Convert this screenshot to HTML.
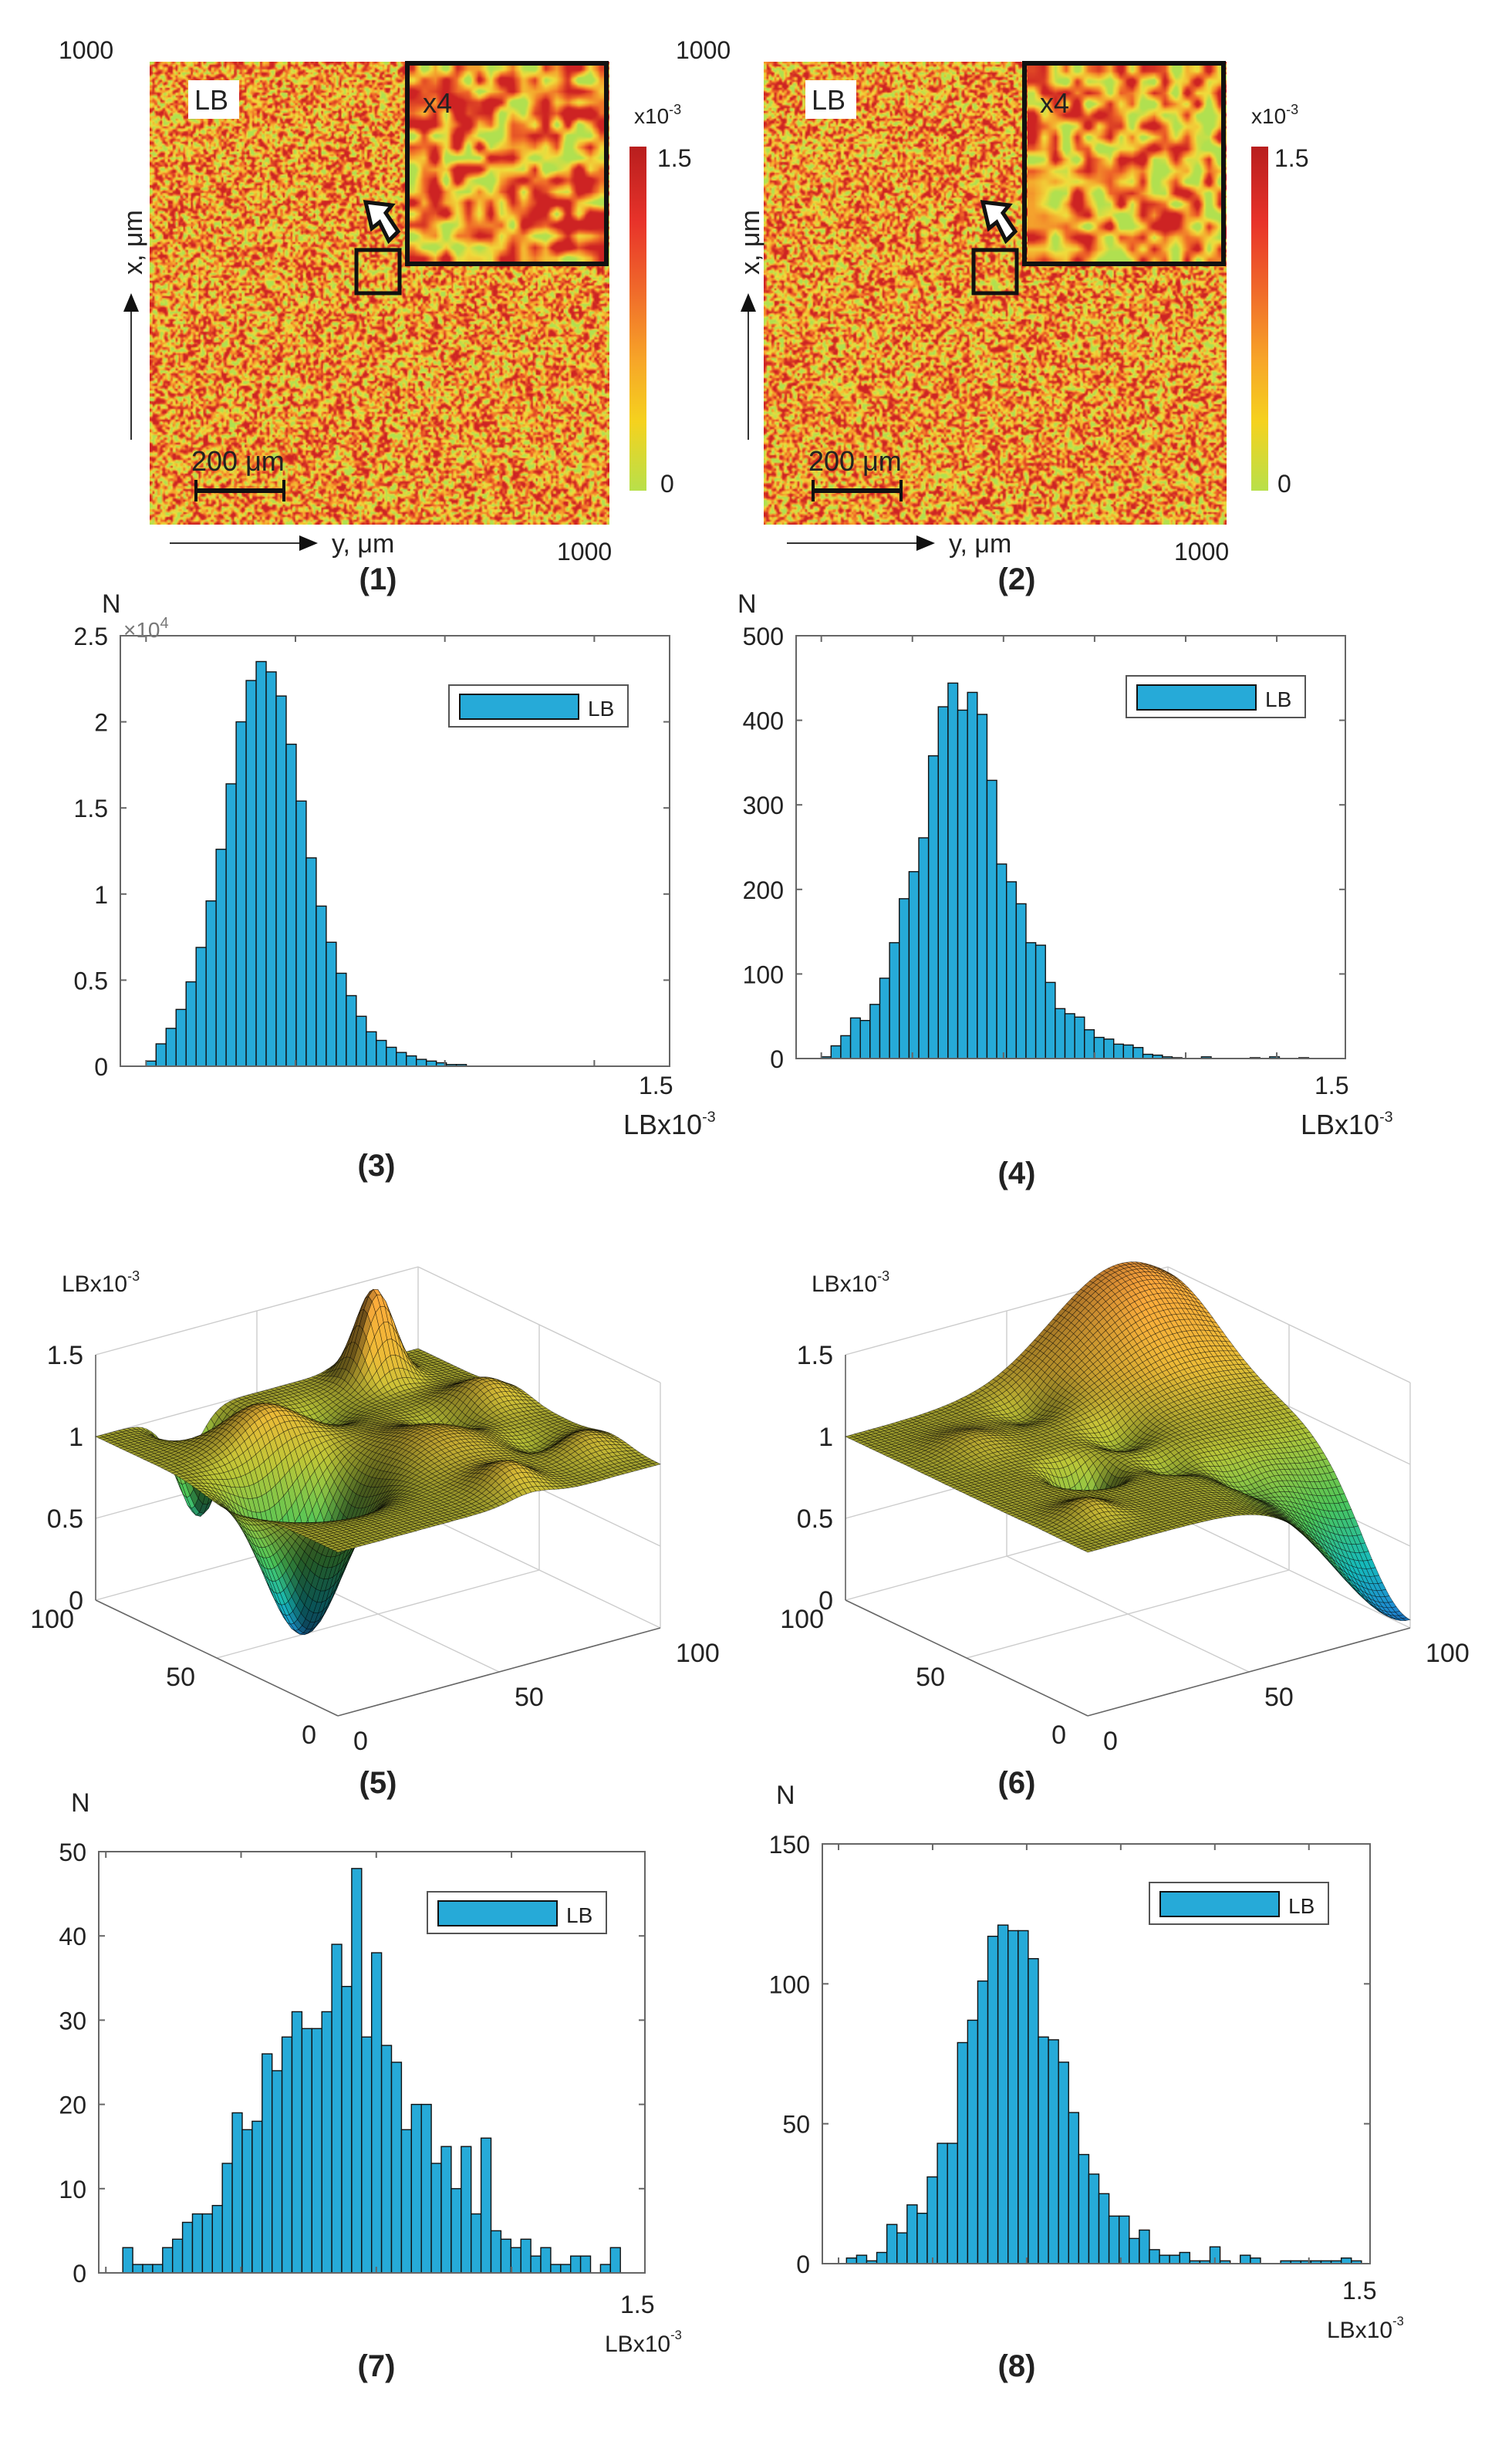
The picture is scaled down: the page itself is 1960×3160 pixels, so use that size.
<!DOCTYPE html>
<html><head><meta charset="utf-8">
<style>
html,body{margin:0;padding:0;background:#fff;}
#root{position:relative;width:980px;height:1580px;transform:scale(2);transform-origin:0 0;font-family:"Liberation Sans",sans-serif;}
canvas{position:absolute;}
#svg{position:absolute;left:0;top:0;}
.cb{position:absolute;width:11px;height:223px;top:95px;background:linear-gradient(to bottom,#b81e1e 0%,#e8332a 22%,#f06a2a 42%,#f7a528 62%,#f5d21e 80%,#b8e04a 100%);}
</style></head>
<body>
<div id="root">
<canvas id="hm1" width="300" height="300" style="left:97px;top:40px;width:298px;height:300px"></canvas>
<canvas id="in1" width="130" height="130" style="left:264px;top:41px;width:129px;height:130px"></canvas>
<canvas id="hm2" width="300" height="300" style="left:495px;top:40px;width:300px;height:300px"></canvas>
<canvas id="in2" width="130" height="130" style="left:666px;top:42px;width:128px;height:130px"></canvas>
<div class="cb" style="left:408px"></div>
<div class="cb" style="left:811px"></div>
<svg id="svg" width="980" height="1580" viewBox="0 0 980 1580" xmlns="http://www.w3.org/2000/svg" font-family="Liberation Sans, sans-serif"></svg>
</div>
<script>
// ---- histogram data ----
const h3Counts = [0.03,0.13,0.22,0.33,0.49,0.69,0.96,1.26,1.64,2.0,2.24,2.35,2.29,2.15,1.87,1.54,1.21,0.93,0.72,0.54,0.41,0.29,0.20,0.15,0.11,0.08,0.06,0.04,0.03,0.02,0.01,0.01];
const h3YTicks = [0,0.5,1,1.5,2,2.5];
const h3YLabels = ["0","0.5","1","1.5","2","2.5"];
const h3XTicks = [0,0.5,1,1.5];
const h4Counts = [2,15,27,48,45,64,95,137,189,221,261,358,416,444,412,433,407,329,230,209,183,137,134,90,59,53,49,34,25,23,17,16,13,5,4,2,1,0,0,2,0,0,0,0,1,0,2,0,0,1];
const h4YTicks = [0,100,200,300,400,500];
const h4YLabels = ["0","100","200","300","400","500"];
const h4XTicks = [0,0.3,0.6,0.9,1.2,1.5];
const h7Counts = [3,1,1,1,3,4,6,7,7,8,13,19,17,18,26,24,28,31,29,29,31,39,34,48,28,38,27,25,17,20,20,13,15,10,15,7,16,5,4,3,4,2,3,1,1,2,2,0,1,3];
const h7YTicks = [0,10,20,30,40,50];
const h7YLabels = ["0","10","20","30","40","50"];
const h7XTicks = [0,0.375,0.75,1.125];
const h8Counts = [2,3,1,4,14,11,21,18,31,43,43,79,87,101,117,121,119,119,109,81,80,72,54,39,32,25,17,17,9,12,5,3,3,4,1,1,6,1,0,3,2,0,0,1,1,1,1,1,1,2,1];
const h8YTicks = [0,50,100,150];
const h8YLabels = ["0","50","100","150"];
const h8XTicks = [0,0.3,0.6,0.9,1.2,1.5];
// ---- surface data (bumps: u, v, amplitude, width) ----
const s5U = [45,90,93,70,40,20,60,10,80,30,55];
const s5V = [23,79,27,30,60,90,90,60,55,85,75];
const s5A = [-0.95,0.55,-0.6,0.25,0.15,0.12,0.15,0.15,-0.12,-0.1,-0.12];
const s5W = [14,7,8,14,16,10,10,9,8,8,8];
const s6U = [100,0,46,75,30,60,20,85,40];
const s6V = [85,100,34,20,70,55,15,45,55];
const s6A = [0.6,-0.95,-0.45,0.08,-0.12,-0.12,0.1,-0.1,-0.1];
const s6W = [30,28,7,10,9,8,8,8,7];

const NS="http://www.w3.org/2000/svg";
const svg=document.getElementById('svg');
function el(tag,attrs,parent){const e=document.createElementNS(NS,tag);for(const k in attrs)e.setAttribute(k,attrs[k]);(parent||svg).appendChild(e);return e;}
function txt(x,y,s,size,attrs,parent){const t=el('text',Object.assign({x:x,y:y,'font-size':size,fill:'#222'},attrs||{}),parent);t.textContent=s;return t;}

function hist(name,box,xmin,xmax,ymax,yt,yl,xt,binStart,binW,counts,leg){
  const g=el('g',{});
  
  
  const sx=v=>box[0]+(v-xmin)/(xmax-xmin)*(box[2]-box[0]);
  const sy=v=>box[3]-v/ymax*(box[3]-box[1]);
  for(let i=0;i<counts.length;i++){
    if(counts[i]<=0)continue;
    const x0=sx(binStart+i*binW),x1=sx(binStart+(i+1)*binW);
    const r=el('rect',{x:x0,y:sy(counts[i]),width:x1-x0,height:box[3]-sy(counts[i]),fill:'#26aad8',stroke:'#111','stroke-width':0.7},g);
    
    
  }
  const fr=el('rect',{x:box[0],y:box[1],width:box[2]-box[0],height:box[3]-box[1],fill:'none',stroke:'#666','stroke-width':1},g);
  
  
  yt.forEach((v,i)=>{
    const y=sy(v);
    el('line',{x1:box[0],x2:box[0]+4,y1:y,y2:y,stroke:'#666'},g);
    el('line',{x1:box[2],x2:box[2]-4,y1:y,y2:y,stroke:'#666'},g);
    const t=txt(box[0]-8,y+6,yl[i],16,{'text-anchor':'end'},g);
    
    
  });
  xt.forEach(v=>{
    const x=sx(v);
    el('line',{x1:x,x2:x,y1:box[3],y2:box[3]-4,stroke:'#666'},g);
    el('line',{x1:x,x2:x,y1:box[1],y2:box[1]+4,stroke:'#666'},g);
  });
  const lg=el('g',{},g);
  
  
  el('rect',{x:leg[0],y:leg[1],width:116,height:27,fill:'#fff',stroke:'#555','stroke-width':1},lg);
  el('rect',{x:leg[0]+7,y:leg[1]+6,width:77,height:16,fill:'#26aad8',stroke:'#111','stroke-width':1},lg);
  txt(leg[0]+90,leg[1]+20,'LB',14,{},lg);
}
hist('histogram-3',[78,412,434,691],-0.086,1.752,2.5,h3YTicks,h3YLabels,h3XTicks,0,0.0335,h3Counts,[291,444]);
hist('histogram-4',[516,412,872,686],-0.083,1.726,500,h4YTicks,h4YLabels,h4XTicks,0,0.0321,h4Counts,[730,438]);
hist('histogram-7',[64,1200,418,1473],-0.0197,1.495,50,h7YTicks,h7YLabels,h7XTicks,0.047,0.0276,h7Counts,[277,1226]);
hist('histogram-8',[533,1195,888,1467],-0.0517,1.695,150,h8YTicks,h8YLabels,h8XTicks,0.0253,0.0322,h8Counts,[745,1220]);

function lab(x,y,s,size,name,anchor,weight){const t=txt(x,y,s,size,{'text-anchor':anchor||'start','font-weight':weight||'normal'});return t;}
function lbx(x,y,size,name){const t=txt(x,y,'LBx10',size);const s=el('tspan',{dy:-8,'font-size':size*0.55},t);s.textContent='-3';return t;}
lab(66,397,'N',17,'y-axis-title-3');
{const t=txt(80,413,'×10',14,{fill:'#777'});const s=el('tspan',{dy:-6,'font-size':10},t);s.textContent='4';}
lab(414,709,'1.5',16,'x-tick-1-5');lbx(404,735,18,'x-axis-title-3');
lab(478,397,'N',17,'y-axis-title-4');
lab(852,709,'1.5',16,'x-tick-1-5');lbx(843,735,18,'x-axis-title-4');
lab(46,1174,'N',17,'y-axis-title-7');
lab(402,1499,'1.5',16,'x-tick-1-5');lbx(392,1524,15,'x-axis-title-7');
lab(503,1169,'N',17,'y-axis-title-8');
lab(870,1490,'1.5',16,'x-tick-1-5');lbx(860,1515,15,'x-axis-title-8');
[['(1)',245,382],['(2)',659,382],['(3)',244,762],['(4)',659,767],['(5)',245,1162],['(6)',659,1162],['(7)',244,1540],['(8)',659,1540]].forEach(p=>lab(p[1],p[2],p[0],20,'panel-label','middle','bold'));

function mapPanel(dx,n){
  const g=el('g',{});
  
  
  txt(38+dx,38,'1000',16,{},g);
  el('rect',{x:122+dx,y:52,width:33,height:25,fill:'#fff'},g);
  txt(126+dx,71,'LB',18,{},g);
  el('rect',{x:dx+264,y:41,width:129,height:130,fill:'none',stroke:'#111','stroke-width':3},g);
  el('rect',{x:dx+231,y:162,width:28,height:28,fill:'none',stroke:'#111','stroke-width':2.5},g);
  el('path',{d:`M${dx+252},156 L${dx+246},144 L${dx+241},148 L${dx+237},131 L${dx+254},133 L${dx+250},138 L${dx+258},150 Z`,fill:'#fff',stroke:'#111','stroke-width':2.5,'stroke-linejoin':'miter'},g);
  txt(dx+274,73,'x4',18,{},g);
  const t=txt(dx+411,80,'x10',14,{},g);const s=el('tspan',{dy:-6,'font-size':9},t);s.textContent='-3';
  txt(dx+426,108,'1.5',16,{},g);
  txt(dx+428,319,'0',16,{},g);
  el('line',{x1:dx+85,y1:285,x2:dx+85,y2:198,stroke:'#333','stroke-width':1},g);
  el('path',{d:`M${dx+85},190 L${dx+80},202 L${dx+90},202 Z`,fill:'#111'},g);
  txt(dx+92,178,'x, μm',17,{transform:`rotate(-90 ${dx+92} 178)`},g);
  el('line',{x1:dx+110,y1:352,x2:dx+197,y2:352,stroke:'#333','stroke-width':1},g);
  el('path',{d:`M${dx+206},352 L${dx+194},347 L${dx+194},357 Z`,fill:'#111'},g);
  txt(dx+215,358,'y, μm',17,{},g);
  txt(dx+361,363,'1000',16,{},g);
  el('line',{x1:dx+126,y1:318,x2:dx+185,y2:318,stroke:'#111','stroke-width':3},g);
  el('line',{x1:dx+127,y1:311,x2:dx+127,y2:325,stroke:'#111','stroke-width':2},g);
  el('line',{x1:dx+184,y1:311,x2:dx+184,y2:325,stroke:'#111','stroke-width':2},g);
  txt(dx+124,305,'200 μm',18,{},g);
}
mapPanel(0,1);mapPanel(400,2);

function rng(seed){return function(){seed|=0;seed=seed+0x6D2B79F5|0;let t=Math.imul(seed^seed>>>15,1|seed);t=t+Math.imul(t^t>>>7,61|t)^t;return((t^t>>>14)>>>0)/4294967296;};}
const stops=[[0,[176,224,80]],[0.25,[240,220,60]],[0.5,[245,165,45]],[0.72,[238,100,40]],[1,[205,35,35]]];
function cmap(v){v=Math.max(0,Math.min(1,v));for(let i=1;i<stops.length;i++){if(v<=stops[i][0]){const a=stops[i-1],b=stops[i];const f=(v-a[0])/(b[0]-a[0]);return a[1].map((c,k)=>c+(b[1][k]-c)*f);}}return stops[4][1];}
function texture(id,n,seed,gain,bias){
  const c=document.getElementById(id),ctx=c.getContext('2d');
  const s=document.createElement('canvas');s.width=n;s.height=n;const sc=s.getContext('2d');
  const im=sc.createImageData(n,n),r=rng(seed);
  for(let i=0;i<n*n;i++){const v=r()*255;im.data[i*4]=v;im.data[i*4+1]=v;im.data[i*4+2]=v;im.data[i*4+3]=255;}
  sc.putImageData(im,0,0);
  ctx.imageSmoothingEnabled=true;ctx.drawImage(s,0,0,c.width,c.height);
  const d=ctx.getImageData(0,0,c.width,c.height);
  for(let i=0;i<d.data.length;i+=4){const v=0.5+bias+(d.data[i]/255-0.5)*gain;const col=cmap(v);d.data[i]=col[0];d.data[i+1]=col[1];d.data[i+2]=col[2];}
  ctx.putImageData(d,0,0);
}
texture('hm1',180,7,1.7,0.04);texture('hm2',180,11,1.7,0.04);
texture('in1',18,3,1.7,0.05);texture('in2',18,5,1.7,0.02);

const surfStops=[[0,[30,110,200]],[0.3,[20,170,170]],[0.6,[70,180,80]],[0.95,[170,180,50]],[1.2,[215,170,50]],[1.6,[235,150,55]]];
function scol(z){z=Math.max(0,Math.min(1.6,z));for(let i=1;i<surfStops.length;i++){if(z<=surfStops[i][0]){const a=surfStops[i-1],b=surfStops[i];const f=(z-a[0])/(b[0]-a[0]);return a[1].map((c,k)=>Math.round(c+(b[1][k]-c)*f));}}return surfStops[5][1];}
function surface(name,dx,U,V,A,W){
  const g=el('g',{});
  
  
  const F=[219+dx,1112],L=[62+dx,1037],R=[428+dx,1055],K=106;
  const P=(u,v,z)=>[F[0]+u/100*(L[0]-F[0])+v/100*(R[0]-F[0]),F[1]+u/100*(L[1]-F[1])+v/100*(R[1]-F[1])-z*K];
  const B=[L[0]+R[0]-F[0],L[1]+R[1]-F[1]];
  const gc='#ccc';
  [[L,B],[B,R]].forEach(([a,b])=>{
    [0,0.5,1,1.5].forEach(z=>el('line',{x1:a[0],y1:a[1]-z*K,x2:b[0],y2:b[1]-z*K,stroke:gc,'stroke-width':0.7},g));
  });
  [0.5].forEach(f=>{el('line',{x1:L[0]+(B[0]-L[0])*f,y1:L[1]+(B[1]-L[1])*f,x2:L[0]+(B[0]-L[0])*f,y2:L[1]+(B[1]-L[1])*f-1.5*K,stroke:gc,'stroke-width':0.7},g);
    el('line',{x1:B[0]+(R[0]-B[0])*f,y1:B[1]+(R[1]-B[1])*f,x2:B[0]+(R[0]-B[0])*f,y2:B[1]+(R[1]-B[1])*f-1.5*K,stroke:gc,'stroke-width':0.7},g);
    const p1=P(50,0,0),p2=P(50,100,0),p3=P(0,50,0),p4=P(100,50,0);
    el('line',{x1:p1[0],y1:p1[1],x2:p2[0],y2:p2[1],stroke:gc,'stroke-width':0.7},g);
    el('line',{x1:p3[0],y1:p3[1],x2:p4[0],y2:p4[1],stroke:gc,'stroke-width':0.7},g);});
  [L,B,R].forEach(p=>el('line',{x1:p[0],y1:p[1],x2:p[0],y2:p[1]-1.5*K,stroke:gc,'stroke-width':0.7},g));
  el('line',{x1:L[0],y1:L[1],x2:F[0],y2:F[1],stroke:'#666','stroke-width':0.8},g);
  el('line',{x1:F[0],y1:F[1],x2:R[0],y2:R[1],stroke:'#666','stroke-width':0.8},g);
  el('line',{x1:L[0],y1:L[1],x2:L[0],y2:L[1]-1.5*K,stroke:'#666','stroke-width':0.8},g);
  const zf=(u,v)=>{let z=1.0;for(let i=0;i<U.length;i++){const d=((u-U[i])**2+(v-V[i])**2)/(W[i]*W[i]);z+=A[i]*Math.exp(-d);}return z;};
  const N=70,st=100/N;
  const quads=[];
  for(let i=0;i<N;i++)for(let j=0;j<N;j++)quads.push([i,j]);
  quads.sort((a,b)=>(b[0]+b[1])-(a[0]+a[1]));
  const sg=el('g',{},g);
  
  
  let html='';
  quads.forEach(([i,j])=>{
    const u0=i*st,u1=u0+st,v0=j*st,v1=v0+st;
    const zs=[zf(u0,v0),zf(u1,v0),zf(u1,v1),zf(u0,v1)];
    const pts=[P(u0,v0,zs[0]),P(u1,v0,zs[1]),P(u1,v1,zs[2]),P(u0,v1,zs[3])];
    const zm=(zs[0]+zs[1]+zs[2]+zs[3])/4;
    const sl=(zs[1]-zs[0]+zs[2]-zs[3])*1.4-(zs[3]-zs[0]+zs[2]-zs[1])*0.8;
    const sh=Math.max(0.5,Math.min(1.1,0.88+sl*4));
    const c=scol(zm).map(x=>Math.min(255,Math.round(x*sh)));
    html+=`<polygon points="${pts.map(p=>p[0].toFixed(1)+','+p[1].toFixed(1)).join(' ')}" fill="rgb(${c})" stroke="rgba(0,0,0,0.6)" stroke-width="0.3"/>`;
  });
  sg.innerHTML=html;
  [['1.5',1.5],['1',1],['0.5',0.5],['0',0]].forEach(([s,z])=>{const t=txt(L[0]-8,L[1]-z*K+6,s,17,{'text-anchor':'end'},g);});
  [['100',100],['50',50],['0',0]].forEach(([s,u])=>{const p=P(u,0,0);txt(p[0]-14,p[1]+18,s,17,{'text-anchor':'end'},g);});
  [['0',0],['50',50],['100',100]].forEach(([s,v])=>{const p=P(0,v,0);txt(p[0]+10,p[1]+22,s,17,{},g);});
  const t=txt(L[0]-22,L[1]-200,'LBx10',15,{},g);const s=el('tspan',{dy:-7,'font-size':9},t);s.textContent='-3';
}
surface('surface-plot-5',0,s5U,s5V,s5A,s5W);
surface('surface-plot-6',486,s6U,s6V,s6A,s6W);
</script>
</body></html>
